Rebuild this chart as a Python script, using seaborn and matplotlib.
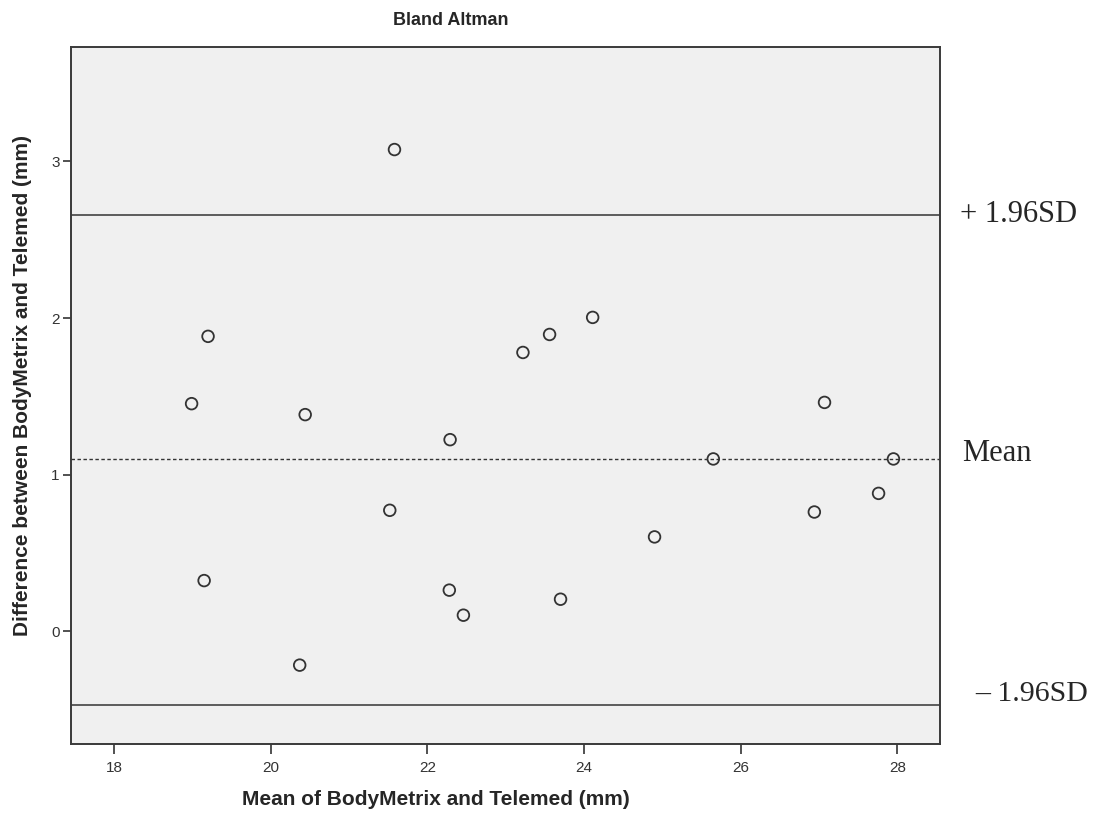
import pandas as pd
import matplotlib
matplotlib.use("Agg")
import matplotlib.pyplot as plt
import seaborn as sns

# Values
mean_vals = [18.99, 19.20, 19.15, 20.37, 20.44, 21.58, 21.52, 22.29, 22.28, 22.46,
             23.22, 23.56, 24.11, 23.70, 24.90, 25.65, 26.94, 27.07, 27.76, 27.95]
diff_vals = [1.453, 1.883, 0.323, -0.217, 1.383, 3.076, 0.772, 1.223, 0.262, 0.102,
             1.780, 1.895, 2.004, 0.204, 0.602, 1.100, 0.761, 1.461, 0.880, 1.100]
mean_diff = 1.10
upper_loa = 2.66
lower_loa = -0.47
x_ticks = [18, 20, 22, 24, 26, 28]
y_ticks = [0, 1, 2, 3]

df = pd.DataFrame({'mean': mean_vals, 'diff': diff_vals})

sns.set_theme(style="white")
plt.rcParams['font.family'] = ['Liberation Sans', 'DejaVu Sans']

fig = plt.figure(figsize=(11.02, 8.13), dpi=100)
ax = fig.add_axes([0.0644, 0.085, 0.789, 0.857])
ax.set_facecolor('#f0f0f0')

sns.scatterplot(data=df, x='mean', y='diff', ax=ax, marker='o', s=70,
                facecolors='none', edgecolor='#333333', linewidth=1.3, zorder=3)

ax.axhline(upper_loa, color='#333333', lw=1.1, zorder=2)
ax.axhline(lower_loa, color='#333333', lw=1.1, zorder=2)
ax.axhline(mean_diff, color='#333333', lw=1.0, ls=(0, (2.5, 1.8)), zorder=2)

ax.set_xlim(17.45, 28.55)
ax.set_ylim(-0.72, 3.73)
ax.set_xticks(x_ticks)
ax.set_yticks(y_ticks)
ax.tick_params(axis='x', direction='out', length=7, width=1.2, color='#333333',
               labelsize=11, labelcolor='#333333', pad=5, bottom=True)
ax.tick_params(axis='y', direction='out', length=6, width=1.2, color='#333333',
               labelsize=11, labelcolor='#333333', pad=2, left=True)

for sp in ax.spines.values():
    sp.set_color('#3a3a3a')
    sp.set_linewidth(1.4)

ax.set_xlabel('Mean of BodyMetrix and Telemed (mm)', fontsize=15, fontweight='bold')
ax.xaxis.set_label_coords(0.42, -0.066)
ax.set_ylabel('Difference between BodyMetrix and Telemed (mm)', fontsize=15,
              fontweight='bold')
ax.yaxis.set_label_coords(-0.045, 0.515)
ax.set_title('Bland Altman', fontsize=13, fontweight='bold', x=0.437, y=1.0, pad=16)

# Labels to the right of the plot (serif, as in the reference)
serif = ['Liberation Serif', 'DejaVu Serif']
fig.text(960 / 1102, 1 - 214 / 813, '+ 1.96SD', family=serif, fontsize=22,
         va='center', ha='left')
fig.text(962 / 1102, 1 - 453 / 813, 'Mean', family=serif, fontsize=22,
         va='center', ha='left')
fig.text(975 / 1102, 1 - 694 / 813, '\u2013 1.96SD', family=serif, fontsize=21.5,
         va='center', ha='left')

plt.savefig('out.png', dpi=100)
